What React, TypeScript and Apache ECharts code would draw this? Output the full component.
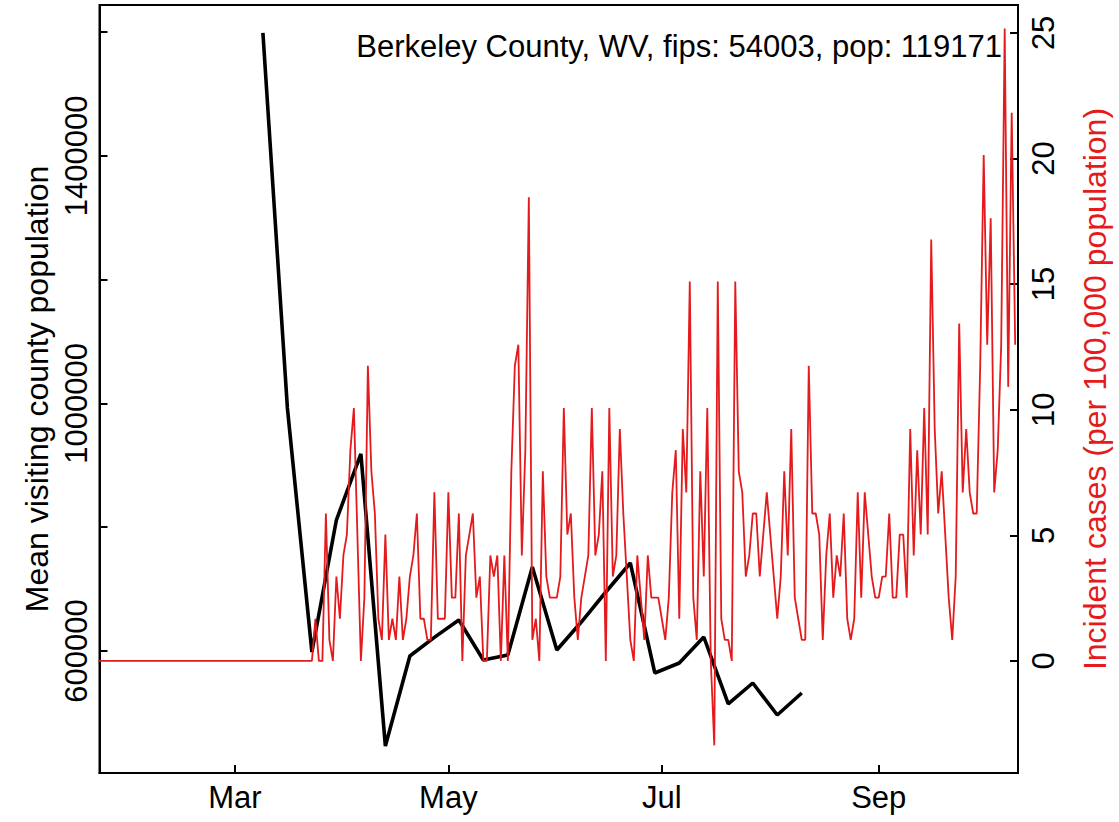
import React, { useEffect, useRef } from 'react';
import * as echarts from 'echarts';

// ---------------- data ----------------
const redStartDate = '2020-01-22';
// Incident cases per 100,000 population, one value per day from redStartDate
const incidentCases: number[] = [
  0, 0, 0, 0, 0, 0, 0, 0, 0, 0,
  0, 0, 0, 0, 0, 0, 0, 0, 0, 0,
  0, 0, 0, 0, 0, 0, 0, 0, 0, 0,
  0, 0, 0, 0, 0, 0, 0, 0, 0, 0,
  0, 0, 0, 0, 0, 0, 0, 0, 0, 0,
  0, 0, 0, 0, 0, 0, 0, 0, 0, 0,
  0, 0,
  1.68, 0, 0, 5.87, 0.84, 0, 3.36, 1.68, 4.2, 5.03,
  8.39, 10.07, 5.03, 0, 2.52, 11.75, 7.55, 5.87, 1.68, 0.84,
  5.03, 0.84, 1.68, 0.84, 3.36, 0.84, 1.68, 3.36, 4.2, 5.87,
  1.68, 1.68, 0.84, 0.84, 6.71, 1.68, 1.68, 1.68, 6.71, 2.52,
  2.52, 5.87, 0, 4.2, 5.03, 5.87, 2.52, 3.36, 0, 0,
  4.2, 3.36, 4.2, 0, 4.2, 0, 7.55, 11.75, 12.59, 4.2,
  8.39, 18.46, 0.84, 1.68, 0, 7.55, 3.36, 2.52, 2.52, 2.52,
  3.36, 10.07, 5.03, 5.87, 2.52, 0.84, 2.52, 3.36, 4.2, 10.07,
  4.2, 5.03, 7.55, 0, 10.07, 3.36, 4.2, 9.23, 5.87, 3.36,
  0.84, 0, 4.2, 2.52, 0.84, 4.2, 2.52, 2.52, 2.52, 1.68,
  0.84, 2.52, 6.71, 8.39, 1.68, 9.23, 6.71, 15.1, 2.52, 0.84,
  7.55, 3.36, 10.07, 0, -3.36, 15.1, 1.68, 0.84, 0.84, 0,
  15.1, 7.55, 6.71, 3.36, 4.2, 5.87, 5.87, 3.36, 5.03, 6.71,
  5.03, 3.36, 1.68, 3.36, 7.55, 4.2, 9.23, 2.52, 1.68, 0.84,
  0.84, 11.75, 5.87, 5.87, 5.03, 0.84, 4.2, 5.87, 2.52, 4.2,
  3.36, 5.87, 1.68, 0.84, 1.68, 6.71, 2.52, 6.71, 5.03, 3.36,
  2.52, 2.52, 3.36, 3.36, 5.87, 2.52, 2.52, 5.03, 5.03, 2.52,
  9.23, 4.2, 8.39, 5.03, 10.07, 5.03, 16.78, 9.23, 5.87, 7.55,
  5.03, 2.52, 0.84, 3.36, 13.43, 6.71, 9.23, 6.71, 5.87, 5.87,
  11.75, 20.14, 12.59, 17.62, 6.71, 8.39, 12.59, 25.17, 10.91, 21.82,
  12.59,
];

const blackStartDate = '2020-03-09';
const blackStepDays = 7;
// Mean visiting county population, weekly
const visitingPopulation: number[] = [
  1598400, 992600, 598400, 811600, 918300, 446500, 591900, 622000,
  650100, 585500, 593500, 735700, 601600, 646800, 695300, 742200,
  564500, 580600, 622600, 514400, 548300, 496600, 532100,
];

const monthTickDates = ['2020-03-01', '2020-05-01', '2020-07-01', '2020-09-01'];
const monthTickLabels = ['Mar', 'May', 'Jul', 'Sep'];
const leftTickValues = [600000, 800000, 1000000, 1200000, 1400000, 1600000];
const leftLabelValues = [600000, 1000000, 1400000];
const rightTickValues = [0, 5, 10, 15, 20, 25];
const plotTitle = 'Berkeley County, WV, fips: 54003, pop: 119171';
const leftAxisName = 'Mean visiting county population';
const rightAxisName = 'Incident cases (per 100,000 population)';

// ---------------- helpers ----------------
const DAY = 86400000;
const parseDay = (s: string) => {
  const [y, m, d] = s.split('-').map(Number);
  return Date.UTC(y, m - 1, d);
};
// day offset relative to the first daily observation
const dayIndex = (s: string) => Math.round((parseDay(s) - parseDay(redStartDate)) / DAY);

const FONT = '"Liberation Sans", Arial, Helvetica, sans-serif';
const RED = '#E41A1C';

export default function App() {
  const ref = useRef<HTMLDivElement>(null);

  useEffect(() => {
    if (!ref.current) return;
    const chart = echarts.init(ref.current, undefined, { renderer: 'svg' });

    const redData = incidentCases.map((v, i) => [i, v]);
    const b0 = dayIndex(blackStartDate);
    const blackData = visitingPopulation.map((v, i) => [b0 + i * blackStepDays, v]);
    const monthTicks = monthTickDates.map(dayIndex);

    const option: any = {
      animation: false,
      backgroundColor: '#fff',
      textStyle: { fontFamily: FONT },
      grid: {
        left: 99.5,
        right: 98.5,
        top: 5,
        bottom: 49,
        show: true,
        borderColor: '#000',
        borderWidth: 2,
        backgroundColor: 'transparent',
      },
      xAxis: {
        type: 'value',
        min: 0.3,
        max: 262.8,
        axisLine: { show: true, onZero: false, lineStyle: { color: '#000', width: 2 } },
        axisTick: {
          show: true,
          inside: true,
          length: 8,
          lineStyle: { color: '#000', width: 2 },
          customValues: monthTicks,
        },
        axisLabel: {
          show: true,
          customValues: monthTicks,
          fontSize: 31,
          fontFamily: FONT,
          color: '#000',
          margin: 9,
          formatter: (val: number) => {
            const idx = monthTicks.indexOf(Math.round(val));
            return idx >= 0 ? monthTickLabels[idx] : '';
          },
        },
        splitLine: { show: false },
      },
      yAxis: [
        {
          type: 'value',
          position: 'left',
          min: 402900,
          max: 1643600,
          name: leftAxisName,
          nameLocation: 'middle',
          nameRotate: 90,
          nameGap: 46,
          nameTextStyle: { fontSize: 32, fontFamily: FONT, color: '#000' },
          axisLine: { show: true, onZero: false, lineStyle: { color: '#000', width: 2 } },
          axisTick: {
            show: true,
            inside: true,
            length: 8,
            lineStyle: { color: '#000', width: 2 },
            customValues: leftTickValues,
          },
          axisLabel: {
            show: true,
            customValues: leftLabelValues,
            rotate: 90,
            fontSize: 31,
            fontFamily: FONT,
            color: '#000',
            margin: 8,
            formatter: (v: number) => String(v),
          },
          splitLine: { show: false },
        },
        {
          type: 'value',
          position: 'right',
          min: -4.46,
          max: 26.11,
          name: rightAxisName,
          nameLocation: 'middle',
          nameRotate: 90,
          nameGap: 61,
          nameTextStyle: { fontSize: 32, fontFamily: FONT, color: RED },
          axisLine: { show: true, onZero: false, lineStyle: { color: '#000', width: 2 } },
          axisTick: {
            show: true,
            inside: true,
            length: 8,
            lineStyle: { color: '#000', width: 2 },
            customValues: rightTickValues,
          },
          axisLabel: {
            show: true,
            customValues: rightTickValues,
            rotate: 90,
            fontSize: 31,
            fontFamily: FONT,
            color: '#000',
            margin: 10,
            formatter: (v: number) => String(v),
          },
          splitLine: { show: false },
        },
      ],
      graphic: [
        {
          type: 'text',
          x: 1002,
          y: 46,
          z: 100,
          style: {
            text: plotTitle,
            font: `31px ${FONT}`,
            fill: '#000',
            textAlign: 'right',
            textVerticalAlign: 'middle',
          },
        },
      ],
      series: [
        {
          type: 'line',
          name: 'visiting',
          yAxisIndex: 0,
          data: blackData,
          showSymbol: false,
          symbol: 'none',
          lineStyle: { color: '#000', width: 3.6 },
          itemStyle: { color: '#000' },
          z: 2,
        },
        {
          type: 'line',
          name: 'cases',
          yAxisIndex: 1,
          data: redData,
          showSymbol: false,
          symbol: 'none',
          lineStyle: { color: RED, width: 1.8 },
          itemStyle: { color: RED },
          z: 3,
        },
      ],
    };

    chart.setOption(option);
    return () => chart.dispose();
  }, []);

  return (
    <div
      ref={ref}
      style={{ position: 'fixed', left: 0, top: 0, width: 1119, height: 822, background: '#fff' }}
    />
  );
}
